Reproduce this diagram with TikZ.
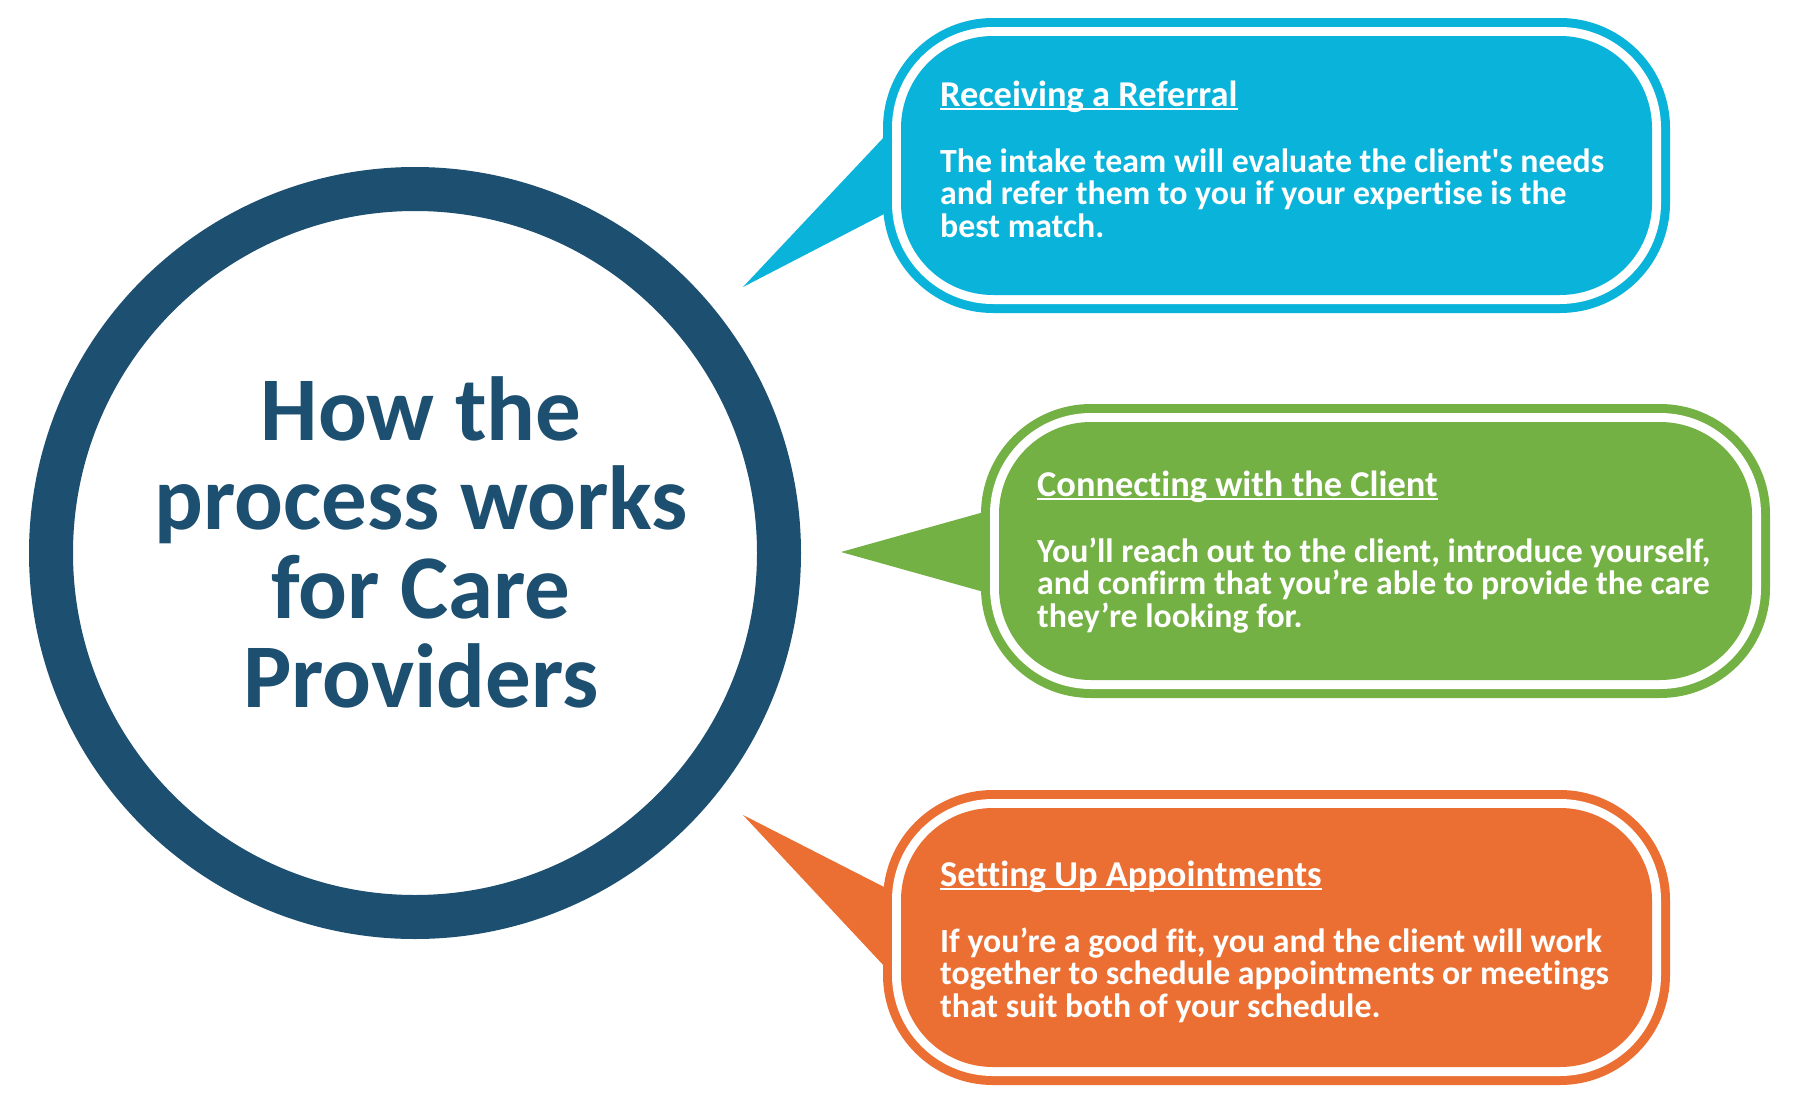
\documentclass[tikz,border=0pt]{standalone}
\usepackage{fontspec}
\setmainfont{Carlito}[Ligatures={TeX,NoCommon}]
\definecolor{navy}{HTML}{1C4F70}
\definecolor{cblue}{HTML}{0AB3D9}
\definecolor{cgreen}{HTML}{74B144}
\definecolor{corange}{HTML}{EB6F33}
\begin{document}
\begin{tikzpicture}[x=1pt,y=-1pt,
  bodytext/.style={anchor=base west, inner sep=0pt, text=white, font=\fontsize{33.8}{33.8}\selectfont\bfseries},
  headtext/.style={anchor=base west, inner sep=0pt, text=white, font=\fontsize{36.4}{36.4}\selectfont\bfseries},
  titletext/.style={anchor=base, inner sep=0pt, text=navy, font=\fontsize{91}{91}\selectfont\bfseries},
  uline/.style={white, line width=2pt},
]
\useasboundingbox (0,0) rectangle (1800,1103);
\fill[white] (0,0) rectangle (1800,1103);

% central circle
\node[draw=navy, line width=44pt, circle, minimum size=728pt, inner sep=0pt] (hub) at (415,553) {};
\node[titletext] (t1) at (421,440) {How the};
\node[titletext] (t2) at (421,529) {process works};
\node[titletext] (t3) at (421,618) {for Care};
\node[titletext] (t4) at (421,707) {Providers};

% bubble 1 (blue)
\fill[cblue] (886,135) -- (743,287) -- (886,213) -- cycle;
\fill[cblue, rounded corners=110pt] (883,18) rectangle (1670,313);
\fill[white, rounded corners=101pt] (892,27) rectangle (1661,304);
\fill[cblue, rounded corners=92pt] (901,36) rectangle (1652,295);
\node[headtext] (h1) at (940,106) {Receiving a Referral};
\draw[uline] ([yshift=-3pt]h1.base west) -- ([yshift=-3pt]h1.base east);
\node[bodytext] (b1a) at (940,172) {The intake team will evaluate the client\textquotesingle s needs};
\node[bodytext] (b1b) at (940,204.5) {and refer them to you if your expertise is the};
\node[bodytext] (b1c) at (940,237) {best match.};

% bubble 2 (green)
\fill[cgreen] (984,512) -- (841,552) -- (984,592) -- cycle;
\fill[cgreen, rounded corners=110pt] (981,404) rectangle (1770,698);
\fill[white, rounded corners=101pt] (990,413) rectangle (1761,689);
\fill[cgreen, rounded corners=92pt] (999,422) rectangle (1752,680);
\node[headtext] (h2) at (1037,496) {Connecting with the Client};
\draw[uline] ([yshift=-3pt]h2.base west) -- ([yshift=-3pt]h2.base east);
\node[bodytext] (b2a) at (1037,562) {You’ll reach out to the client, introduce yourself,};
\node[bodytext] (b2b) at (1037,594.5) {and confirm that you’re able to provide the care};
\node[bodytext] (b2c) at (1037,627) {they’re looking for.};

% bubble 3 (orange)
\fill[corange] (886,888) -- (743,815) -- (886,968) -- cycle;
\fill[corange, rounded corners=110pt] (883,790) rectangle (1670,1085);
\fill[white, rounded corners=101pt] (892,799) rectangle (1661,1076);
\fill[corange, rounded corners=92pt] (901,808) rectangle (1652,1067);
\node[headtext] (h3) at (940,886) {Setting Up Appointments};
\draw[uline] ([yshift=-3pt]h3.base west) -- ([yshift=-3pt]h3.base east);
\node[bodytext] (b3a) at (940,952) {If you’re a good fit, you and the client will work};
\node[bodytext] (b3b) at (940,984.5) {together to schedule appointments or meetings};
\node[bodytext] (b3c) at (940,1017) {that suit both of your schedule.};
\end{tikzpicture}
\end{document}
